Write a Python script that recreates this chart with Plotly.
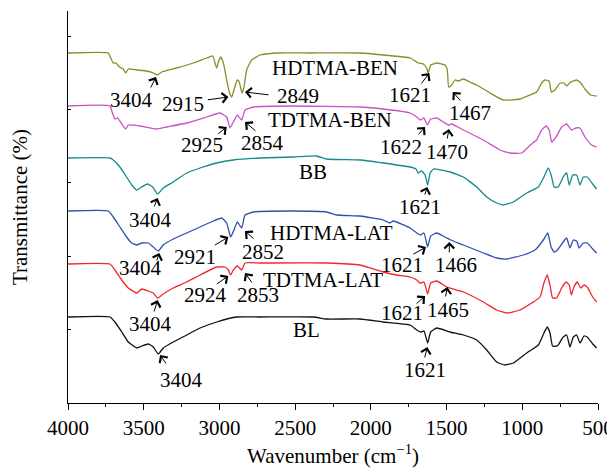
import plotly.graph_objects as go

# ---- data (wavenumber, transmittance in offset arbitrary units) ----
hdtma_ben_wn = [4000, 3734, 3718, 3701, 3683, 3661, 3635, 3619, 3602, 3546, 3480, 3437, 3410, 3381, 3282, 3172, 3084, 3044, 3029, 3018,
                3007, 2992, 2974, 2952, 2935, 2919, 2904, 2882, 2869, 2851, 2838, 2820, 2787, 2732, 2622, 2402, 2072, 1918, 1741, 1687,
                1654, 1631, 1621, 1605, 1565, 1510, 1495, 1486, 1466, 1444, 1422, 1389, 1345, 1301, 1213, 1125, 1015, 949, 905, 872,
                850, 823, 808, 784, 751, 724, 707, 680, 641, 614, 586, 548, 509]
hdtma_ben_T = [350, 350, 345, 340, 340, 336, 334, 330, 334, 333, 332, 330, 328, 331, 335, 340, 345, 347, 340, 335,
               341, 346, 340, 323, 311, 306, 313, 323, 321, 310, 316, 333, 343, 348, 350, 350, 350, 348, 345, 340,
               339, 335, 330, 338, 340, 338, 333, 316, 318, 323, 322, 324, 321, 318, 310, 303, 304, 308, 311, 320,
               323, 322, 311, 313, 320, 320, 317, 321, 323, 320, 314, 308, 307]

tdtma_ben_wn = [4000, 3723, 3707, 3690, 3672, 3645, 3619, 3602, 3525, 3414, 3348, 3216, 3084, 2996, 2952, 2930, 2908, 2882, 2853, 2831,
                2776, 2512, 2072, 1918, 1741, 1697, 1671, 1649, 1627, 1605, 1565, 1521, 1488, 1466, 1389, 1257, 1147, 1081, 1004, 960,
                931, 905, 872, 843, 822, 806, 777, 740, 707, 674, 645, 619, 586, 542, 509]
tdtma_ben_T = [297, 297, 290, 284, 285, 279, 274, 278, 277, 274, 276, 280, 286, 290, 286, 275, 281, 288, 283, 293,
               296, 297, 296, 294, 290, 286, 283, 285, 278, 284, 285, 281, 278, 279, 273, 263, 253, 250, 250, 256,
               260, 263, 273, 277, 273, 261, 266, 276, 279, 273, 275, 275, 266, 258, 256]

bb_wn = [4000, 3723, 3701, 3657, 3613, 3579, 3546, 3513, 3476, 3441, 3408, 3371, 3305, 3216, 3128, 3018, 2908, 2732, 2512, 2358,
         2292, 2072, 1918, 1741, 1702, 1687, 1665, 1642, 1625, 1609, 1587, 1477, 1389, 1301, 1235, 1169, 1125, 1059, 971, 894,
         857, 828, 806, 790, 763, 730, 707, 690, 667, 641, 619, 597, 571, 535, 509]
bb_T = [245, 245, 243, 236, 226, 218, 213, 216, 219, 216, 209, 215, 221, 230, 235, 240, 243, 245, 246, 247,
        244, 243, 240, 236, 234, 230, 232, 228, 218, 230, 234, 231, 226, 216, 206, 200, 198, 201, 210, 216,
        226, 235, 226, 216, 216, 226, 230, 218, 228, 228, 218, 226, 226, 219, 214]

hdtma_lat_wn = [4000, 3734, 3701, 3657, 3613, 3579, 3546, 3513, 3470, 3437, 3404, 3371, 3305, 3216, 3128, 3040, 2985, 2952, 2926, 2904,
                2882, 2853, 2831, 2776, 2512, 2292, 2226, 2072, 1918, 1874, 1852, 1741, 1697, 1671, 1649, 1625, 1605, 1565, 1499, 1473,
                1389, 1257, 1169, 1103, 993, 916, 861, 832, 810, 790, 768, 730, 707, 685, 663, 641, 624, 597, 571, 535, 509]
hdtma_lat_T = [192, 192, 186, 176, 166, 160, 158, 160, 160, 156, 152, 158, 164, 170, 176, 182, 185, 180, 166, 173,
               181, 175, 188, 191, 192, 191, 188, 187, 183, 180, 182, 175, 170, 168, 170, 156, 167, 170, 165, 163,
               158, 150, 145, 144, 148, 153, 163, 170, 156, 151, 153, 161, 165, 155, 163, 162, 155, 160, 160, 154, 150]

tdtma_lat_wn = [4000, 3723, 3690, 3645, 3602, 3546, 3513, 3470, 3437, 3408, 3371, 3305, 3216, 3128, 3018, 2963, 2941, 2926, 2908, 2882,
                2853, 2831, 2732, 2292, 2072, 1918, 1830, 1741, 1697, 1675, 1649, 1625, 1605, 1565, 1499, 1389, 1257, 1169, 1103, 1015,
                938, 883, 857, 835, 817, 800, 773, 740, 711, 690, 676, 659, 637, 614, 592, 571, 535, 509]
tdtma_lat_T = [139, 139, 133, 123, 115, 110, 114, 112, 110, 105, 109, 115, 121, 128, 136, 136, 133, 128, 133, 137,
               133, 140, 140, 140, 138, 131, 128, 126, 123, 120, 121, 109, 120, 122, 116, 111, 101, 93, 90, 93,
               100, 106, 120, 128, 118, 105, 105, 115, 121, 118, 108, 116, 121, 115, 118, 116, 106, 101]

bl_wn = [4000, 3723, 3690, 3645, 3602, 3546, 3513, 3470, 3437, 3404, 3371, 3305, 3216, 3128, 3018, 2886, 2732, 2380, 2292, 2072,
         1918, 1741, 1697, 1671, 1649, 1625, 1605, 1565, 1477, 1389, 1301, 1235, 1169, 1114, 1059, 971, 894, 857, 835, 817,
         800, 768, 730, 707, 685, 663, 641, 619, 592, 571, 535, 509]
bl_T = [86, 86, 81, 71, 61, 55, 57, 59, 56, 49, 55, 61, 68, 75, 81, 86, 86, 86, 84, 84,
        81, 78, 73, 71, 72, 60, 71, 75, 71, 68, 63, 53, 41, 38, 40, 50, 58, 70, 76, 70,
        57, 57, 66, 68, 56, 66, 68, 60, 67, 66, 59, 55]

series_names = ["HDTMA-BEN", "TDTMA-BEN", "BB", "HDTMA-LAT", "TDTMA-LAT", "BL"]
series_colors = ["#8c8c2c", "#c952c4", "#16898a", "#2f4fae", "#f0262a", "#111111"]

# curve labels: (text, wavenumber, value)
curve_labels = [("HDTMA-BEN", 2237, 335), ("TDTMA-BEN", 2270, 283), ("BB", 2380, 231),
                ("HDTMA-LAT", 2257, 170), ("TDTMA-LAT", 2316, 123), ("BL", 2424, 73)]

# peak annotations: (text, tip_wn, tip_T, tail_dx_px, tail_dy_px, text_wn, text_T)
peak_labels = [
    ("3404", 3419, 326, -6, 12, 3579, 303),
    ("2915", 2941, 306, -22, 3, 3239, 299),
    ("2849", 2831, 311, 25, 3, 2479, 307),
    ("1621", 1614, 330, -9, 12, 1741, 308),
    ("1467", 1459, 311, 9, 10, 1345, 290),
    ("2925", 2952, 276, -10, 8, 3117, 258),
    ("2854", 2831, 281, 12, 10, 2714, 260),
    ("1622", 1642, 276, -8, 9, 1803, 256),
    ("1470", 1484, 274, -2, 11, 1499, 251),
    ("3404", 3408, 205, -4, 10, 3458, 183),
    ("1621", 1627, 216, -3, 9, 1675, 196),
    ("3404", 3397, 150, -3, 9, 3520, 135),
    ("2921", 2941, 166, -15, 9, 3161, 146),
    ("2852", 2831, 172, 10, 9, 2710, 151),
    ("1621", 1636, 156, -14, 8, 1796, 138),
    ("1466", 1482, 161, 0, 12, 1438, 138),
    ("3404", 3408, 103, -4, 13, 3458, 79),
    ("2924", 2941, 127, -13, 9, 3095, 108),
    ("2853", 2831, 130, 8, 11, 2743, 108),
    ("1621", 1642, 107, -10, 9, 1796, 90),
    ("1465", 1495, 116, -2, 11, 1488, 93),
    ("3404", 3392, 48, 7, 10, 3249, 23),
    ("1621", 1627, 56, -3, 12, 1642, 33),
]

x_ticks = [4000, 3500, 3000, 2500, 2000, 1500, 1000, 500]
y_tickvals = [73.4 * k for k in range(1, 6)]

FONT = "Liberation Serif, Times New Roman, serif"
FS = 21

fig = go.Figure()
all_wn = [hdtma_ben_wn, tdtma_ben_wn, bb_wn, hdtma_lat_wn, tdtma_lat_wn, bl_wn]
all_T = [hdtma_ben_T, tdtma_ben_T, bb_T, hdtma_lat_T, tdtma_lat_T, bl_T]
for name, col, wn, T in zip(series_names, series_colors, all_wn, all_T):
    fig.add_trace(go.Scatter(x=wn, y=T, mode="lines", name=name,
                             line=dict(color=col, width=1.3, shape="spline", smoothing=0.4),
                             showlegend=False))

ann = []
for txt, wn, v in curve_labels:
    ann.append(dict(x=wn, y=v, text=txt, showarrow=False, xref="x", yref="y",
                    font=dict(family=FONT, size=FS, color="black")))
for txt, twn, tv, dx, dy, xwn, xv in peak_labels:
    ann.append(dict(x=twn, y=tv, text="", showarrow=True, ax=dx, ay=dy, xref="x", yref="y",
                    arrowhead=4, arrowsize=1.9, arrowwidth=1.0, arrowcolor="black", standoff=0,
                    startstandoff=0, font=dict(size=1)))
    ann.append(dict(x=xwn, y=xv, text=txt, showarrow=False, xref="x", yref="y",
                    font=dict(family=FONT, size=FS, color="black")))

fig.update_layout(
    width=607, height=464,
    margin=dict(l=60, r=17, t=3, b=69, autoexpand=False),
    paper_bgcolor="white", plot_bgcolor="white",
    font=dict(family=FONT, size=FS, color="black"),
    annotations=ann,
    xaxis=dict(range=[4000, 500], tickvals=x_ticks, ticks="outside", ticklen=6, tickwidth=1,
               tickcolor="black", showline=True, linecolor="black", linewidth=1.3,
               showgrid=False, zeroline=False, automargin=False,
               minor=dict(dtick=250, ticks="outside", ticklen=3, tickcolor="black", showgrid=False),
               title=dict(text="Wavenumber (cm<sup>−1</sup>)", font=dict(family=FONT, size=FS), standoff=8),
               tickfont=dict(family=FONT, size=FS)),
    yaxis=dict(range=[0, 392], tickvals=y_tickvals, ticks="inside", ticklen=3, tickcolor="black",
               showticklabels=False, showline=True, linecolor="black", linewidth=1.3,
               showgrid=False, zeroline=False, automargin=False,
               title=dict(text="Transmittance (%)", font=dict(family=FONT, size=FS), standoff=35)),
)

fig.write_html("out.html", post_script="document.body.style.overflow='hidden';")
